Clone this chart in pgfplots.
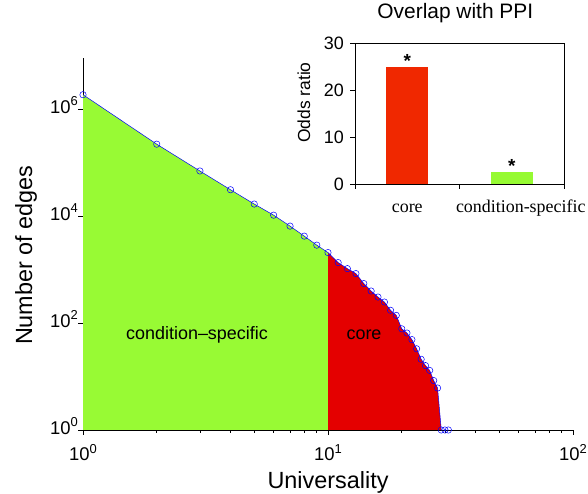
\documentclass[border=0pt]{standalone}
\usepackage{fontspec}
\setmainfont{Liberation Sans}
\newfontfamily\timesf{Liberation Serif}
\usepackage{pgfplots}
\pgfplotsset{compat=1.18}
\definecolor{fgreen}{RGB}{152,250,52}
\definecolor{fred}{RGB}{228,0,0}
\definecolor{ired}{RGB}{240,40,0}
\definecolor{igreen}{RGB}{150,250,50}
\newcommand{\tp}[1]{10\raisebox{0.42em}{\fontsize{13}{13}\selectfont #1}}

\pgfplotstableread{
u y
1 1.86e6
2 2.21e5
3 6.97e4
4 3.11e4
5 1.68e4
6 1.04e4
7 6490
8 4220
9 2860
10 2080
11 1350
12 1040
13 841
14 547
15 397
16 306
17 247
18 173
19 139
20 78
21 65
22 49
23 33
24 21
25 16
26 13
27 8.4
28 6.1
29 1
30 1
31 1
}\curve

\pgfplotstableread{
u y
1 1.86e6
2 2.21e5
3 6.97e4
4 3.11e4
5 1.68e4
6 1.04e4
7 6490
8 4220
9 2860
10 2080
}\greenpart

\pgfplotstableread{
u y
10 2080
11 1350
12 1040
13 841
14 547
15 397
16 306
17 247
18 173
19 139
20 78
21 65
22 49
23 33
24 21
25 16
26 13
27 8.4
28 6.1
29 1
}\redpart

\begin{document}
\begin{tikzpicture}
\useasboundingbox (0,0) rectangle (588bp,494bp);
\begin{axis}[
  at={(83bp,64bp)}, anchor=south west, scale only axis,
  width=490bp, height=372bp,
  xmode=log, ymode=log,
  xmin=1, xmax=100, ymin=1, ymax=9.04e6,
  axis x line*=bottom, axis y line*=left,
  axis line style={-, line width=0.8pt},
  tick align=outside,
  major tick length=5bp, minor tick length=3bp,
  tick style={black, line width=0.7pt},
  xtick={1,10,100}, xticklabels={\tp{0},\tp{1},\tp{2}},
  minor xtick={2,3,4,5,6,7,8,9,20,30,40,50,60,70,80,90},
  ytick={1,100,10000,1000000}, yticklabels={\tp{0},\tp{2},\tp{4},\tp{6}},
  yminorticks=false,
  ticklabel style={font=\fontsize{18.5}{20}\selectfont},
  xticklabel style={anchor=base, yshift=-26bp},
  yticklabel style={anchor=base east, yshift=-4bp, inner sep=0pt},
  xlabel={Universality},
  xlabel style={font=\fontsize{23.5}{26}\selectfont, at={(axis description cs:0.5,0)}, anchor=base, yshift=-58bp},
  ylabel={Number of edges},
  ylabel style={font=\fontsize{23.5}{26}\selectfont, at={([xshift=-51bp]axis description cs:0,0.47)}, anchor=base},
  clip mode=individual,
]
\addplot[fill=fgreen, draw=none] table[x=u,y=y] {\greenpart} \closedcycle;
\addplot[fill=fred, draw=none] table[x=u,y=y] {\redpart} \closedcycle;
\addplot[blue, line width=0.5bp, mark=o, mark size=3.2bp, mark options={line width=0.5bp}] table[x=u,y=y] {\curve};
\node[font=\fontsize{18}{20}\selectfont] at (rel axis cs:0.2327,0.2554) {condition–specific};
\node[font=\fontsize{18}{20}\selectfont] at (rel axis cs:0.5735,0.2554) {core};
\end{axis}

\begin{axis}[
  at={(355bp,310bp)}, anchor=south west, scale only axis,
  width=209bp, height=140.3bp,
  xmin=0, xmax=2, ymin=0, ymax=30,
  xtick={0,1,2}, xticklabels={},
  ytick={0,10,20,30}, yticklabels={0,10,20,30},
  tick align=outside, xtick pos=bottom, ytick pos=left,
  major tick length=5bp,
  axis line style={line width=0.8pt},
  tick style={black, line width=0.7pt},
  ticklabel style={font=\fontsize{18}{20}\selectfont},
  yticklabel style={anchor=east, inner sep=0pt, xshift=-6bp},
  ylabel={Odds ratio},
  ylabel style={font=\fontsize{17.5}{20}\selectfont, at={([xshift=-45bp]axis description cs:0,0.58)}, anchor=base},
  title={Overlap with PPI},
  title style={font=\fontsize{21}{24}\selectfont, at={(axis description cs:0.48,1)}, anchor=base, yshift=19bp},
  clip=false,
]
\addplot[ybar, bar width=0.4, fill=ired, draw=none,
  nodes near coords={*},
  every node near coord/.append style={anchor=base, inner sep=0pt, yshift=0pt, font=\fontsize{19}{20}\selectfont\bfseries, text=black}]
  coordinates {(0.5,25)};
\addplot[ybar, bar width=0.4, fill=igreen, draw=none,
  nodes near coords={*},
  every node near coord/.append style={anchor=base, inner sep=0pt, yshift=0pt, font=\fontsize{19}{20}\selectfont\bfseries, text=black}]
  coordinates {(1.5,2.5)};
\node[font=\timesf\fontsize{18}{20}\selectfont, anchor=base] at ([yshift=-29bp]axis cs:0.5,0) {core};
\node[font=\timesf\fontsize{18}{20}\selectfont, anchor=base] at ([yshift=-29bp,xshift=9bp]axis cs:1.5,0) {condition-specific};
\end{axis}
\end{tikzpicture}
\end{document}
